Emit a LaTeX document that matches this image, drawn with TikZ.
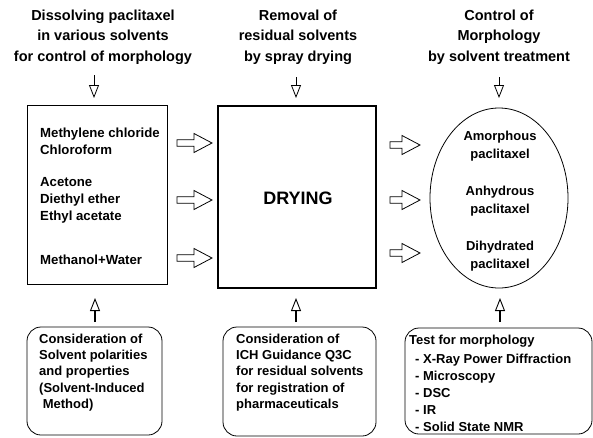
\documentclass[tikz,border=0pt]{standalone}
\usepackage{fontspec}
\setmainfont{Liberation Sans}
\usetikzlibrary{arrows.meta,calc,shapes.geometric}
\tikzset{
  hdr/.style={align=center, inner sep=0pt, font=\bfseries\fontsize{14.5}{20.5}\selectfont},
  txt/.style={align=left, inner sep=0pt, anchor=west, font=\bfseries\fontsize{13}{17}\selectfont},
  ctxt/.style={align=center, inner sep=0pt, font=\bfseries\fontsize{13}{18}\selectfont},
  thinbox/.style={draw, line width=0.8pt, inner sep=0pt},
  roundbox/.style={draw, line width=0.8pt, rounded corners=14pt, inner sep=0pt},
  harrow/.style={draw, line width=0.8pt, fill=white,
    to path={($(\tikztostart)+(0,-3.2)$) -- ($(\tikztotarget)+(-18,-3.2)$) -- ($(\tikztotarget)+(-18,-9.5)$) -- (\tikztotarget) -- ($(\tikztotarget)+(-18,9.5)$) -- ($(\tikztotarget)+(-18,3.2)$) -- ($(\tikztostart)+(0,3.2)$) -- cycle}},
  downarrow/.style={line width=0.8pt, -{Triangle[open, length=13pt, width=10pt]}},
  uparrow/.style={line width=2.2pt, -{Triangle[open, length=13pt, width=10pt, line width=0.9pt]}}
}
\begin{document}
\begin{tikzpicture}[x=1pt,y=-1pt]
\useasboundingbox[fill=white] (0,0) rectangle (593,437);

% headers
\node[hdr] (h1) at (103,37) {Dissolving paclitaxel\\in various solvents\\for control of morphology};
\node[hdr] (h2) at (298,37) {Removal of\\residual solvents\\by spray drying};
\node[hdr] (h3) at (499,37) {Control of\\Morphology\\by solvent treatment};

% main boxes
\node[thinbox, minimum width=140pt, minimum height=179pt] (L) at (97,194.5) {};
\node[draw, line width=2.8pt, inner sep=0pt, minimum width=158pt, minimum height=182pt] (M) at (297,197) {};
\node[ellipse, draw, line width=0.8pt, inner sep=0pt, minimum width=138pt, minimum height=180pt] (R) at (499,198) {};

% left box texts
\node[txt, font=\bfseries\fontsize{13.2}{17}\selectfont] (s1) at (40,141.5) {Methylene chloride\\Chloroform};
\node[txt, font=\bfseries\fontsize{13.2}{17}\selectfont] (s2) at (40,200) {Acetone\\Diethyl ether\\Ethyl acetate};
\node[txt, font=\bfseries\fontsize{13.2}{17}\selectfont] (s3) at (40,260) {Methanol+Water};

% drying
\node[inner sep=0pt, font=\bfseries\fontsize{18}{20}\selectfont] (dry) at (298,198) {DRYING};

% ellipse texts
\node[ctxt] (e1) at (500,146) {Amorphous\\paclitaxel};
\node[ctxt] (e2) at (500,201.5) {Anhydrous\\paclitaxel};
\node[ctxt] (e3) at (500,256) {Dihydrated\\paclitaxel};

% bottom boxes
\node[roundbox, minimum width=135pt, minimum height=108pt] (BL) at (94.5,381) {};
\node[roundbox, minimum width=153pt, minimum height=109pt] (BM) at (299.5,381.5) {};
\node[roundbox, minimum width=187pt, minimum height=106pt] (BR) at (498.5,381) {};

\node[txt, font=\bfseries\fontsize{13}{16.25}\selectfont] (bl) at (39,372.5) {Consideration of\\Solvent polarities\\and properties\\(Solvent-Induced\\\ Method)};
\node[txt, font=\bfseries\fontsize{13}{16.25}\selectfont] (bm) at (236,372.5) {Consideration of\\ICH Guidance Q3C\\for residual solvents\\for registration of\\pharmaceuticals};
\node[txt] (br0) at (409,341) {Test for morphology};
\node[txt] (br) at (415,393) {- X-Ray Power Diffraction\\- Microscopy\\- DSC\\- IR\\- Solid State NMR};

% coordinates for arrows
\coordinate (ta1) at (94,75);  \coordinate (tb1) at (94,98);
\coordinate (ta2) at (296,77); \coordinate (tb2) at (296,98);
\coordinate (ta3) at (499,77); \coordinate (tb3) at (499,98);
\draw[downarrow] (ta1) -- (tb1);
\draw[downarrow] (ta2) -- (tb2);
\draw[downarrow] (ta3) -- (tb3);

\coordinate (ua1) at (95,322);  \coordinate (ub1) at (95,298);
\coordinate (ua2) at (296,322); \coordinate (ub2) at (296,298);
\coordinate (ua3) at (500,322); \coordinate (ub3) at (500,298);
\draw[uparrow] (ua1) -- (ub1);
\draw[uparrow] (ua2) -- (ub2);
\draw[uparrow] (ua3) -- (ub3);

\coordinate (la1) at (177,143); \coordinate (lb1) at (212,143);
\coordinate (la2) at (177,200); \coordinate (lb2) at (212,200);
\coordinate (la3) at (177,258); \coordinate (lb3) at (212,258);
\path[harrow] (la1) to (lb1);
\path[harrow] (la2) to (lb2);
\path[harrow] (la3) to (lb3);

\coordinate (ra1) at (390,145); \coordinate (rb1) at (420,145);
\coordinate (ra2) at (390,200); \coordinate (rb2) at (420,200);
\coordinate (ra3) at (390,253); \coordinate (rb3) at (420,253);
\path[harrow] (ra1) to (rb1);
\path[harrow] (ra2) to (rb2);
\path[harrow] (ra3) to (rb3);
\end{tikzpicture}
\end{document}
